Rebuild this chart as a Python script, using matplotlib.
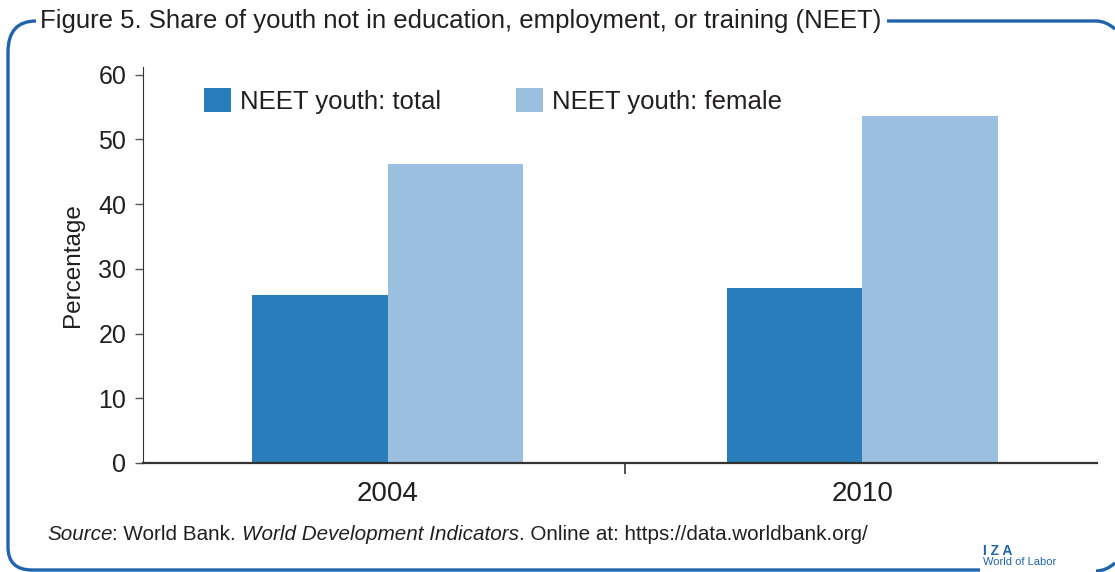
import matplotlib
matplotlib.use("Agg")
import matplotlib.pyplot as plt
import numpy as np
from matplotlib.path import Path
from matplotlib.patches import PathPatch

plt.rcParams["font.family"] = ["Liberation Sans", "DejaVu Sans"]

# ---- data ----
years = ["2004", "2010"]
neet_total = [25.9, 27.1]
neet_female = [46.2, 53.7]
series_labels = ["NEET youth: total", "NEET youth: female"]

C_TOTAL = "#2a7dbb"
C_FEMALE = "#9bbfdf"
C_FRAME = "#1f64ad"
C_TEXT = "#231f20"

W, H = 1115, 572
fig = plt.figure(figsize=(W / 100, H / 100), dpi=100)

# background layer in pixel coords for the rounded frame
bg = fig.add_axes([0, 0, 1, 1], zorder=-1)
bg.set_xlim(0, W)
bg.set_ylim(H, 0)
bg.axis("off")

def curve(pts, codes):
    bg.add_patch(PathPatch(Path(pts, codes), fill=False, ec=C_FRAME, lw=2.4,
                           capstyle="butt"))

M, L, C3 = Path.MOVETO, Path.LINETO, Path.CURVE3
# left part: top-left corner, left side, bottom-left corner, bottom line
curve([(36, 21), (8, 21), (8, 52), (8, 547), (8, 570), (32, 570), (980, 570)],
      [M, C3, C3, L, C3, C3, L])
# top-right piece
curve([(887, 21), (1096, 21), (1106, 21), (1115, 29)], [M, L, C3, C3])
# bottom-right piece
curve([(1096, 571), (1106, 571), (1115, 563)], [M, C3, C3])

# ---- main axes ----
ax = fig.add_axes([143 / W, 1 - 463 / H, (1097 - 143) / W, (463 - 67) / H])
x = np.arange(len(years))
bw = 0.285
ax.bar(x - bw / 2, neet_total, bw, color=C_TOTAL, label=series_labels[0])
ax.bar(x + bw / 2, neet_female, bw, color=C_FEMALE, label=series_labels[1])

ax.set_xlim(-0.515, 1.494)
ax.set_ylim(0, 61.2)
ax.set_yticks([0, 10, 20, 30, 40, 50, 60])
ax.tick_params(axis="y", labelsize=18, length=6, width=1, pad=6,
               colors="#555555", labelcolor=C_TEXT)
ax.set_xticks([0.5], minor=False)
ax.set_xticklabels([""])
ax.tick_params(axis="x", length=8, width=1.2, colors="#333333")
for i, yr in enumerate(years):
    ax.text(x[i], -2.8, yr, ha="center", va="top", fontsize=20, color=C_TEXT)

for s in ("top", "right"):
    ax.spines[s].set_visible(False)
ax.spines["left"].set_color("#333333")
ax.spines["bottom"].set_color("#333333")
ax.spines["bottom"].set_linewidth(1.6)
ax.set_ylabel("Percentage", fontsize=17.5, color=C_TEXT, labelpad=10)

ax.legend(loc="upper left", bbox_to_anchor=(0.04, 1.005), ncol=2, frameon=False,
          fontsize=18.5, handlelength=1.05, handleheight=1.05, handletextpad=0.35,
          columnspacing=2.9, labelcolor=C_TEXT)

# ---- title over the frame ----
fig.text(40 / W, 1 - 21 / H, "Figure 5. Share of youth not in education, employment, or training (NEET)",
         fontsize=18.5, color=C_TEXT, va="center", ha="left",
         bbox=dict(fc="white", ec="none", pad=2))

# ---- source line, mixed italic ----
parts = [("Source", "italic"), (": World Bank. ", "normal"),
         ("World Development Indicators", "italic"),
         (". Online at: https://data.worldbank.org/", "normal")]
fig.canvas.draw()
rend = fig.canvas.get_renderer()
xp = 47
for txt, style in parts:
    t = bg.text(xp, 535, txt, fontsize=14.9, style=style, color=C_TEXT,
                va="center", ha="left")
    bb = t.get_window_extent(renderer=rend)
    xp += bb.width

# ---- IZA mark ----
bg.text(983, 551, "I Z A", fontsize=10, fontweight="bold", color=C_FRAME,
        va="center", ha="left")
bg.text(983, 562, "World of Labor", fontsize=8, color=C_FRAME, va="center", ha="left")

fig.savefig("out.png", dpi=100)
